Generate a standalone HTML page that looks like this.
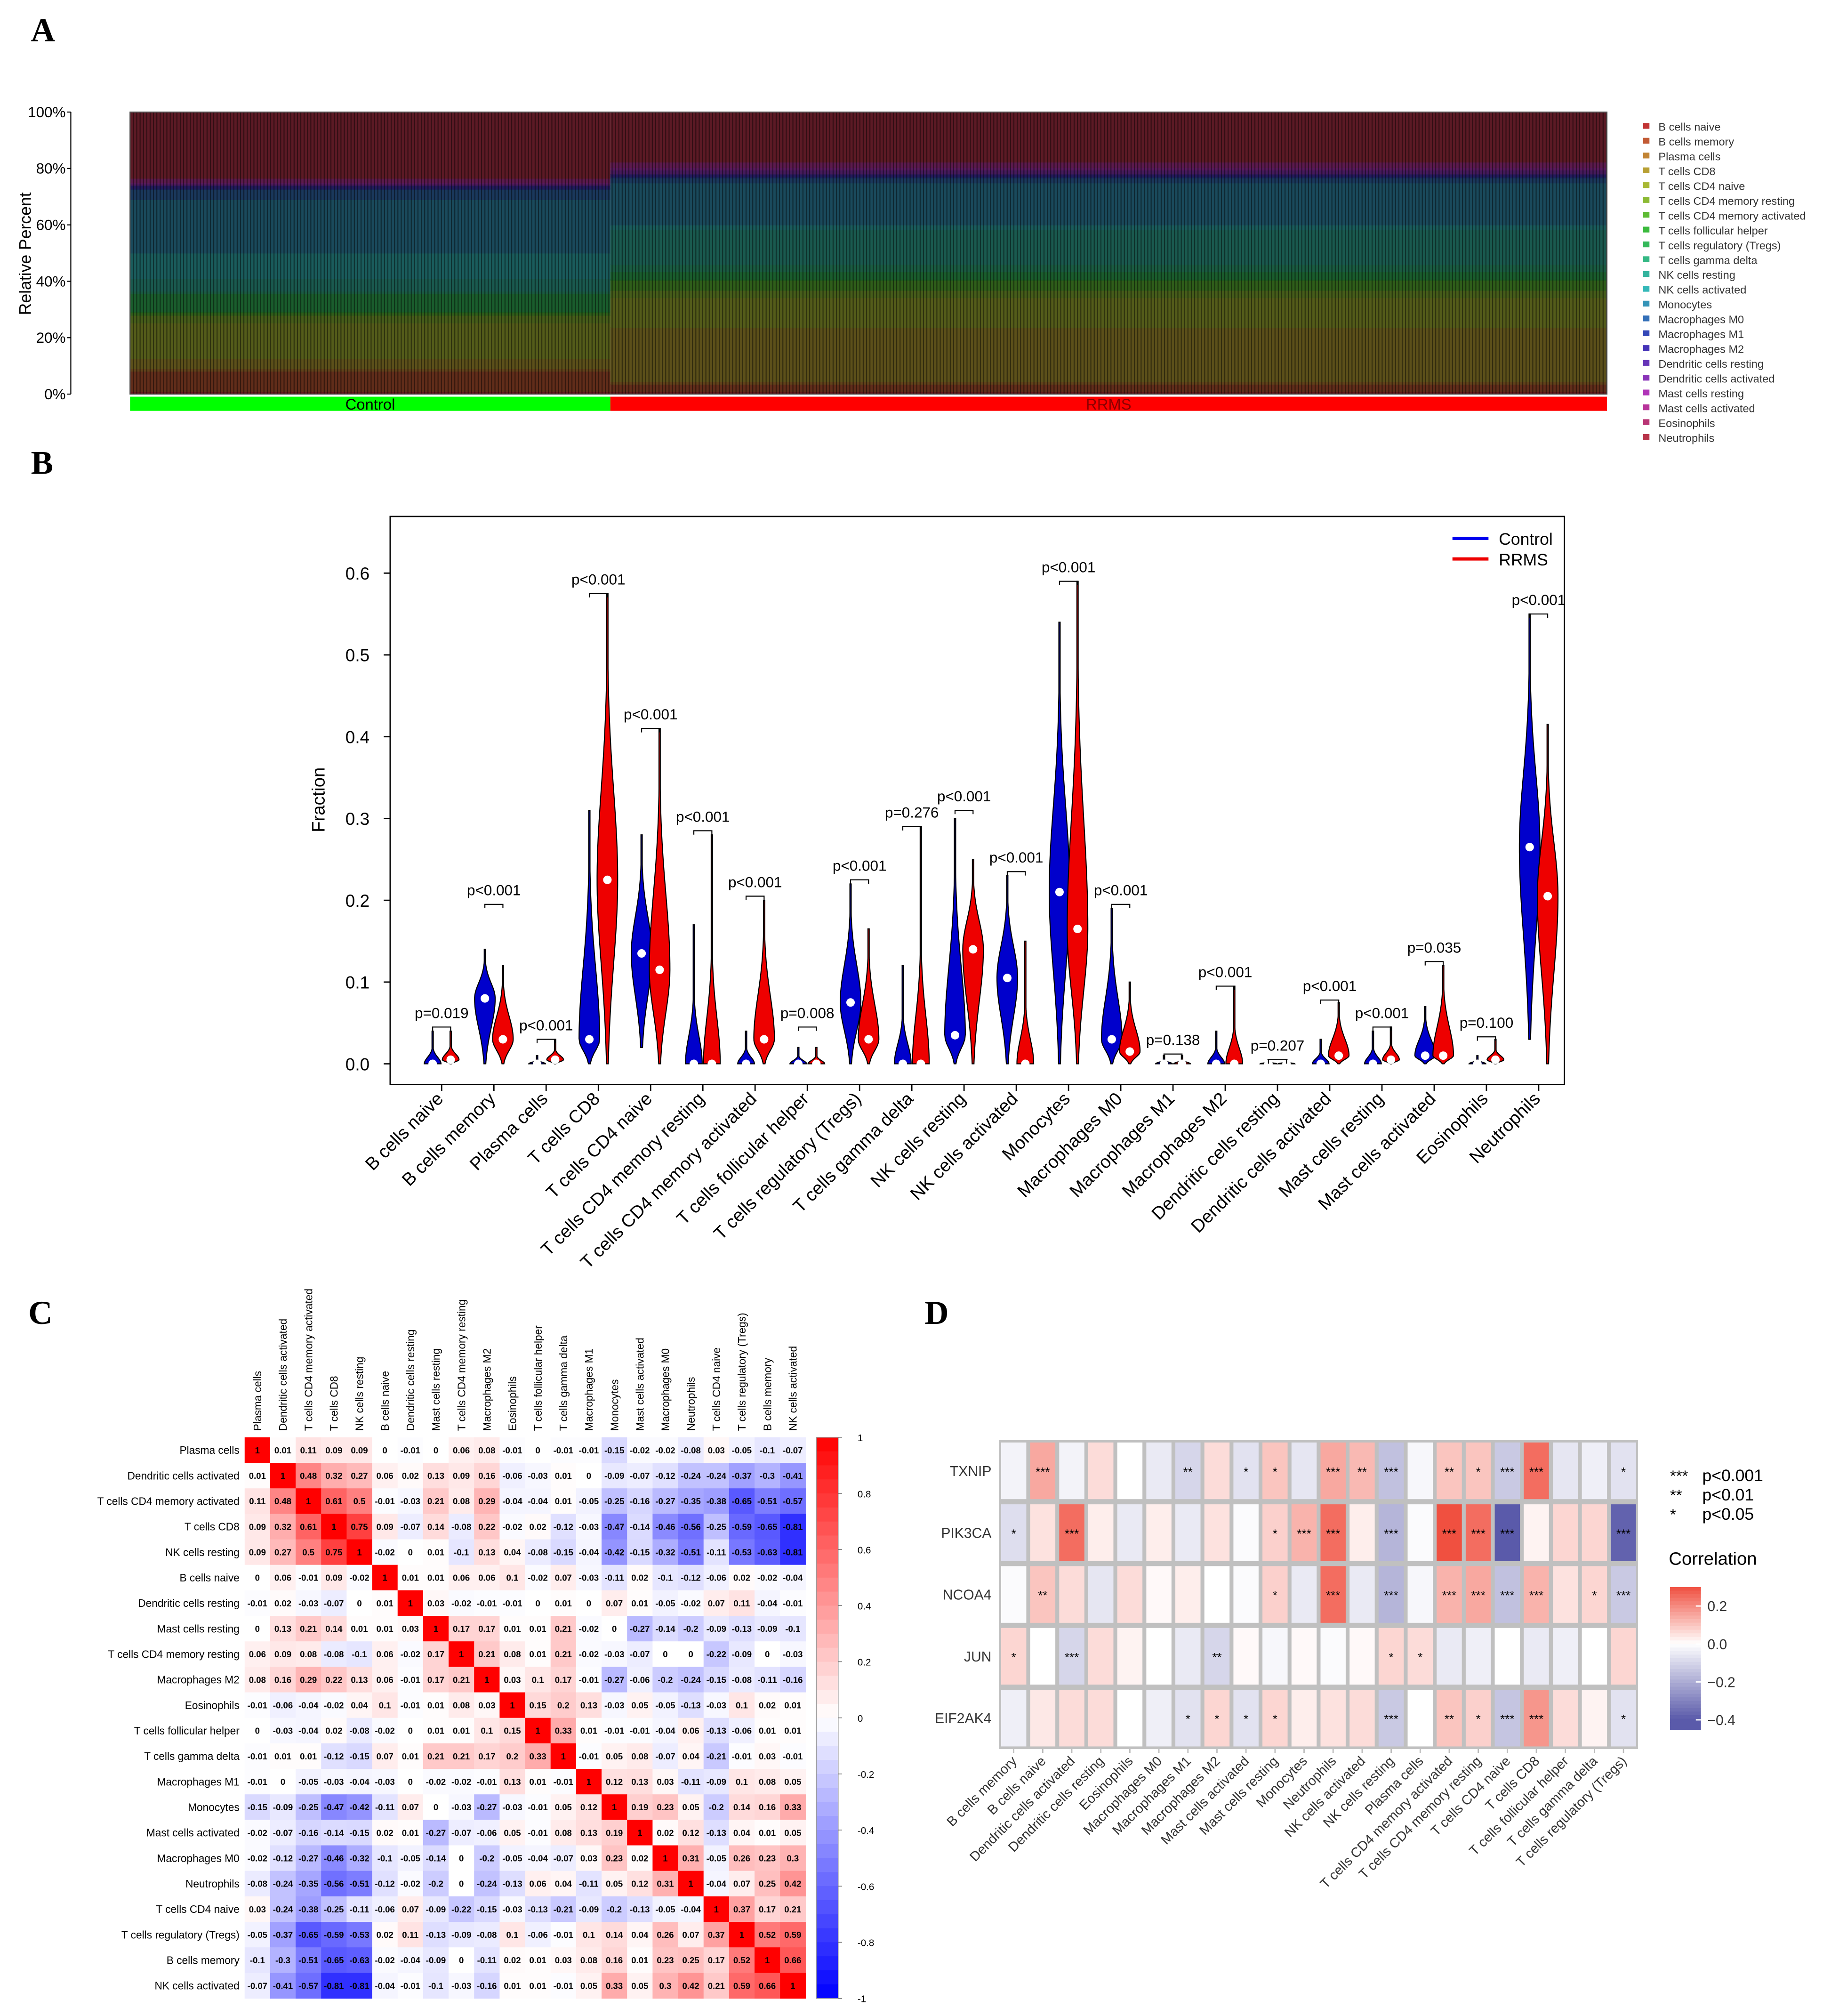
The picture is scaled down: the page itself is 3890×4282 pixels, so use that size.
<!DOCTYPE html>
<html><head><meta charset="utf-8">
<style>
html,body{margin:0;padding:0;background:#fff;}
svg{display:block;font-family:"Liberation Sans",Arial,sans-serif;}
</style></head>
<body>
<svg id="fig" width="3890" height="4282" viewBox="0 0 1422 1565.3" preserveAspectRatio="none" xmlns="http://www.w3.org/2000/svg">
<rect x="0" y="0" width="1422" height="1566" fill="#fff"/>
<g id="pa"></g>
<g id="pb"></g>
<g id="pc"></g>
<g id="pd"></g>
</svg>
<script>
// ---------- shared data ----------
const cellTypes = ["B cells naive","B cells memory","Plasma cells","T cells CD8","T cells CD4 naive","T cells CD4 memory resting","T cells CD4 memory activated","T cells follicular helper","T cells regulatory (Tregs)","T cells gamma delta","NK cells resting","NK cells activated","Monocytes","Macrophages M0","Macrophages M1","Macrophages M2","Dendritic cells resting","Dendritic cells activated","Mast cells resting","Mast cells activated","Eosinophils","Neutrophils"];
const legendColors = ["#c23434","#c25a34","#c28434","#b8a034","#a8b834","#8cba34","#5ebb34","#3bba3e","#34b95a","#34b884","#34b49e","#34b8b8","#3494b8","#3470b8","#3448b8","#4634b8","#6634b8","#8a34b8","#b034b8","#b8349a","#b83474","#b8344a"];
const controlMean = [0.01,0.08,0.01,0.04,0.14,0.03,0.01,0.005,0.07,0.01,0.05,0.10,0.21,0.04,0.005,0.01,0.002,0.005,0.005,0.015,0.003,0.26];
const rrmsMean = [0.01,0.03,0.01,0.22,0.12,0.03,0.04,0.005,0.03,0.03,0.14,0.02,0.17,0.02,0.005,0.01,0.002,0.015,0.01,0.02,0.005,0.20];
const pctTicks = ["0%","20%","40%","60%","80%","100%"];

// panel B data
const ctrlMedian = [0,0.08,0,0.03,0.135,0,0,0,0.075,0,0.035,0.105,0.21,0.03,0,0,0,0,0,0.01,0,0.265];
const ctrlMax =    [0.04,0.14,0.01,0.31,0.28,0.17,0.04,0.02,0.22,0.12,0.30,0.23,0.54,0.19,0.01,0.04,0.005,0.03,0.04,0.07,0.01,0.55];
const ctrlMin =    [0,0,0,0,0.02,0,0,0,0,0,0,0,0,0,0,0,0,0,0,0,0,0.03];
const rrmsMedian = [0.005,0.03,0.005,0.225,0.115,0,0.03,0,0.03,0,0.14,0,0.165,0.015,0,0,0,0.01,0.005,0.01,0.005,0.205];
const rrmsMax =    [0.04,0.12,0.03,0.575,0.41,0.28,0.20,0.02,0.165,0.29,0.25,0.15,0.59,0.10,0.01,0.095,0.005,0.075,0.045,0.12,0.03,0.415];
const rrmsMin =    [0,0,0,0,0,0,0,0,0,0,0,0,0,0,0,0,0,0,0,0,0,0];
const pLabels = ["p=0.019","p<0.001","p<0.001","p<0.001","p<0.001","p<0.001","p<0.001","p=0.008","p<0.001","p=0.276","p<0.001","p<0.001","p<0.001","p<0.001","p=0.138","p<0.001","p=0.207","p<0.001","p<0.001","p=0.035","p=0.100","p<0.001"];
const bracketY =   [0.045,0.195,0.03,0.575,0.41,0.285,0.205,0.045,0.225,0.29,0.31,0.235,0.59,0.195,0.012,0.095,0.005,0.078,0.045,0.125,0.033,0.55];
const fracTicks = [0,0.1,0.2,0.3,0.4,0.5,0.6];

// panel C data
const corrLabels = ["Plasma cells","Dendritic cells activated","T cells CD4 memory activated","T cells CD8","NK cells resting","B cells naive","Dendritic cells resting","Mast cells resting","T cells CD4 memory resting","Macrophages M2","Eosinophils","T cells follicular helper","T cells gamma delta","Macrophages M1","Monocytes","Mast cells activated","Macrophages M0","Neutrophils","T cells CD4 naive","T cells regulatory (Tregs)","B cells memory","NK cells activated"];
const corrMatrix = [
[1,0.01,0.11,0.09,0.09,0,-0.01,0,0.06,0.08,-0.01,0,-0.01,-0.01,-0.15,-0.02,-0.02,-0.08,0.03,-0.05,-0.1,-0.07],
[0.01,1,0.48,0.32,0.27,0.06,0.02,0.13,0.09,0.16,-0.06,-0.03,0.01,0,-0.09,-0.07,-0.12,-0.24,-0.24,-0.37,-0.3,-0.41],
[0.11,0.48,1,0.61,0.5,-0.01,-0.03,0.21,0.08,0.29,-0.04,-0.04,0.01,-0.05,-0.25,-0.16,-0.27,-0.35,-0.38,-0.65,-0.51,-0.57],
[0.09,0.32,0.61,1,0.75,0.09,-0.07,0.14,-0.08,0.22,-0.02,0.02,-0.12,-0.03,-0.47,-0.14,-0.46,-0.56,-0.25,-0.59,-0.65,-0.81],
[0.09,0.27,0.5,0.75,1,-0.02,0,0.01,-0.1,0.13,0.04,-0.08,-0.15,-0.04,-0.42,-0.15,-0.32,-0.51,-0.11,-0.53,-0.63,-0.81],
[0,0.06,-0.01,0.09,-0.02,1,0.01,0.01,0.06,0.06,0.1,-0.02,0.07,-0.03,-0.11,0.02,-0.1,-0.12,-0.06,0.02,-0.02,-0.04],
[-0.01,0.02,-0.03,-0.07,0,0.01,1,0.03,-0.02,-0.01,-0.01,0,0.01,0,0.07,0.01,-0.05,-0.02,0.07,0.11,-0.04,-0.01],
[0,0.13,0.21,0.14,0.01,0.01,0.03,1,0.17,0.17,0.01,0.01,0.21,-0.02,0,-0.27,-0.14,-0.2,-0.09,-0.13,-0.09,-0.1],
[0.06,0.09,0.08,-0.08,-0.1,0.06,-0.02,0.17,1,0.21,0.08,0.01,0.21,-0.02,-0.03,-0.07,0,0,-0.22,-0.09,0,-0.03],
[0.08,0.16,0.29,0.22,0.13,0.06,-0.01,0.17,0.21,1,0.03,0.1,0.17,-0.01,-0.27,-0.06,-0.2,-0.24,-0.15,-0.08,-0.11,-0.16],
[-0.01,-0.06,-0.04,-0.02,0.04,0.1,-0.01,0.01,0.08,0.03,1,0.15,0.2,0.13,-0.03,0.05,-0.05,-0.13,-0.03,0.1,0.02,0.01],
[0,-0.03,-0.04,0.02,-0.08,-0.02,0,0.01,0.01,0.1,0.15,1,0.33,0.01,-0.01,-0.01,-0.04,0.06,-0.13,-0.06,0.01,0.01],
[-0.01,0.01,0.01,-0.12,-0.15,0.07,0.01,0.21,0.21,0.17,0.2,0.33,1,-0.01,0.05,0.08,-0.07,0.04,-0.21,-0.01,0.03,-0.01],
[-0.01,0,-0.05,-0.03,-0.04,-0.03,0,-0.02,-0.02,-0.01,0.13,0.01,-0.01,1,0.12,0.13,0.03,-0.11,-0.09,0.1,0.08,0.05],
[-0.15,-0.09,-0.25,-0.47,-0.42,-0.11,0.07,0,-0.03,-0.27,-0.03,-0.01,0.05,0.12,1,0.19,0.23,0.05,-0.2,0.14,0.16,0.33],
[-0.02,-0.07,-0.16,-0.14,-0.15,0.02,0.01,-0.27,-0.07,-0.06,0.05,-0.01,0.08,0.13,0.19,1,0.02,0.12,-0.13,0.04,0.01,0.05],
[-0.02,-0.12,-0.27,-0.46,-0.32,-0.1,-0.05,-0.14,0,-0.2,-0.05,-0.04,-0.07,0.03,0.23,0.02,1,0.31,-0.05,0.26,0.23,0.3],
[-0.08,-0.24,-0.35,-0.56,-0.51,-0.12,-0.02,-0.2,0,-0.24,-0.13,0.06,0.04,-0.11,0.05,0.12,0.31,1,-0.04,0.07,0.25,0.42],
[0.03,-0.24,-0.38,-0.25,-0.11,-0.06,0.07,-0.09,-0.22,-0.15,-0.03,-0.13,-0.21,-0.09,-0.2,-0.13,-0.05,-0.04,1,0.37,0.17,0.21],
[-0.05,-0.37,-0.65,-0.59,-0.53,0.02,0.11,-0.13,-0.09,-0.08,0.1,-0.06,-0.01,0.1,0.14,0.04,0.26,0.07,0.37,1,0.52,0.59],
[-0.1,-0.3,-0.51,-0.65,-0.63,-0.02,-0.04,-0.09,0,-0.11,0.02,0.01,0.03,0.08,0.16,0.01,0.23,0.25,0.17,0.52,1,0.66],
[-0.07,-0.41,-0.57,-0.81,-0.81,-0.04,-0.01,-0.1,-0.03,-0.16,0.01,0.01,-0.01,0.05,0.33,0.05,0.3,0.42,0.21,0.59,0.66,1]];
const corrTicks = ["1","0.8","0.6","0.4","0.2","0","-0.2","-0.4","-0.6","-0.8","-1"];

// panel D data
const genes = ["TXNIP","PIK3CA","NCOA4","JUN","EIF2AK4"];
const dCols = ["B cells memory","B cells naive","Dendritic cells activated","Dendritic cells resting","Eosinophils","Macrophages M0","Macrophages M1","Macrophages M2","Mast cells activated","Mast cells resting","Monocytes","Neutrophils","NK cells activated","NK cells resting","Plasma cells","T cells CD4 memory activated","T cells CD4 memory resting","T cells CD4 naive","T cells CD8","T cells follicular helper","T cells gamma delta","T cells regulatory (Tregs)"];
const dTXNIP =   [-0.03,0.15,-0.03,0.06,0,-0.05,-0.1,0.06,-0.07,0.1,-0.06,0.15,0.12,-0.15,-0.02,0.1,0.1,-0.13,0.25,-0.06,-0.04,-0.07];
const dPIK3CA =  [-0.08,0.05,0.25,0.03,-0.05,0.03,-0.05,0.05,-0.01,0.08,0.13,0.25,0.03,-0.18,-0.01,0.3,0.25,-0.4,0.02,0.07,0.07,-0.38];
const dNCOA4 =   [-0.01,0.1,0.06,-0.06,0.06,0.01,0.03,0,-0.01,0.08,-0.05,0.25,-0.05,-0.18,-0.02,0.13,0.15,-0.15,0.13,0.05,0.07,-0.13];
const dJUN =     [0.07,0,-0.1,0.06,0.02,0,-0.05,-0.1,0.01,-0.02,0.01,-0.01,0.01,0.07,0.06,-0.05,-0.04,0,-0.05,-0.04,0,0.07];
const dEIF2AK4 = [-0.04,0.04,0.06,0.06,0,-0.04,-0.07,0.07,-0.07,0.07,0.03,0.05,0.06,-0.13,0,0.1,0.08,-0.14,0.18,0.06,0.02,-0.07];
const sTXNIP =   ["","***","","","","","**","","*","*","","***","**","***","","**","*","***","***","","","*"];
const sPIK3CA =  ["*","","***","","","","","","","*","***","***","","***","","***","***","***","","","","***"];
const sNCOA4 =   ["","**","","","","","","","","*","","***","","***","","***","***","***","***","","*","***"];
const sJUN =     ["*","","***","","","","","**","","","","","","*","*","","","","","","",""];
const sEIF2AK4 = ["","","","","","","*","*","*","*","","","","***","","**","*","***","***","","","*"];
const dValues = [dTXNIP,dPIK3CA,dNCOA4,dJUN,dEIF2AK4];
const dStars = [sTXNIP,sPIK3CA,sNCOA4,sJUN,sEIF2AK4];
const dTicks = [0.2,0.0,-0.2,-0.4];

const NS="http://www.w3.org/2000/svg";
function mk(parent,tag,attrs,text){const e=document.createElementNS(NS,tag);for(const k in attrs)e.setAttribute(k,attrs[k]);if(text!==undefined)e.textContent=text;parent.appendChild(e);return e;}
function hexToRgb(h){return [parseInt(h.substr(1,2),16),parseInt(h.substr(3,2),16),parseInt(h.substr(5,2),16)];}
function mix(a,b,t){return `rgb(${Math.round(a[0]+(b[0]-a[0])*t)},${Math.round(a[1]+(b[1]-a[1])*t)},${Math.round(a[2]+(b[2]-a[2])*t)})`;}

// ---------- Panel A ----------
(function(){
const g=document.getElementById('pa');
let t=mk(g,'text',{x:24,y:32,'font-family':'Liberation Serif','font-weight':'bold','font-size':26});t.textContent='A';

const x0=101,x1=1248,xSplit=474,yTop=87,yBot=306;
const yA=v=>yBot-(yBot-yTop)*v;
function stack(means,xa,xb,name){
  const tot=means.reduce((a,b)=>a+b,0);let acc=0;
  means.forEach((m,i)=>{const f=m/tot;const r=mk(g,'rect',{x:xa,y:yA(acc+f),width:xb-xa,height:(yBot-yTop)*f+0.3,fill:mix(hexToRgb(legendColors[i]),[0,0,0],0.5)});
    acc+=f;});
}
stack(controlMean,x0,xSplit,'control-bar');stack(rrmsMean,xSplit,x1,'rrms-bar');
let d='';for(let x=x0;x<=x1;x+=2.6){d+=`M${x.toFixed(1)} ${yTop}V${yBot}`;}
mk(g,'path',{d:d,stroke:'#000','stroke-width':0.8,'stroke-opacity':0.45,fill:'none'});
mk(g,'rect',{x:x0,y:yTop,width:x1-x0,height:yBot-yTop,fill:'none',stroke:'#555','stroke-width':0.8});
mk(g,'line',{x1:55,y1:yTop,x2:55,y2:yBot,stroke:'#000','stroke-width':0.8});
pctTicks.forEach((l,i)=>{const y=yA(i/5);mk(g,'line',{x1:52,y1:y,x2:55,y2:y,stroke:'#000','stroke-width':0.8});
 const tt=mk(g,'text',{x:51,y:y+4,'text-anchor':'end','font-size':11.5},l);});
t=mk(g,'text',{x:0,y:0,transform:'translate(24,197) rotate(-90)','text-anchor':'middle','font-size':13},'Relative Percent');

let r=mk(g,'rect',{x:x0,y:308,width:xSplit-x0,height:11,fill:'#00ff00'});
r=mk(g,'rect',{x:xSplit,y:308,width:x1-xSplit,height:11,fill:'#ff0000'});
t=mk(g,'text',{x:(x0+xSplit)/2,y:318,'text-anchor':'middle','font-size':12},'Control');
t=mk(g,'text',{x:(xSplit+x1)/2,y:318,'text-anchor':'middle','font-size':12,fill:'#8b0000'},'RRMS');
cellTypes.forEach((c,i)=>{const y=99+i*11.5;
 const s=mk(g,'rect',{x:1276,y:y-3.5,width:5,height:4.5,fill:legendColors[i]});
 const tx=mk(g,'text',{x:1288,y:y+2.5,'font-size':8.6,fill:'#333'},c);});
})();

// ---------- Panel B ----------
(function(){
const g=document.getElementById('pb');
let t=mk(g,'text',{x:24,y:368,'font-family':'Liberation Serif','font-weight':'bold','font-size':26},'B');

const bx0=303,bx1=1215,by0=401,by1=842;
const yB=v=>826-v*635;
const xB=i=>343+i*40.57;
let r=mk(g,'rect',{x:bx0,y:by0,width:bx1-bx0,height:by1-by0,fill:'none',stroke:'#000','stroke-width':1});

fracTicks.forEach(v=>{const y=yB(v);mk(g,'line',{x1:bx0-5,y1:y,x2:bx0,y2:y,stroke:'#000'});
 const tt=mk(g,'text',{x:bx0-16,y:y+5,'text-anchor':'end','font-size':13.5},v.toFixed(1));});
t=mk(g,'text',{x:0,y:0,transform:'translate(252,621) rotate(-90)','text-anchor':'middle','font-size':14},'Fraction');

function violin(cx,med,mx,mn,color,name){
  const W=med<0.006?6.5:8;const up=Math.max(mx-med,0.004)/(med<0.006?5:3.2),dn=Math.max(med-mn,0.004)/2.2;
  const pts=[];const N=50;
  for(let k=0;k<=N;k++){const v=mn+(mx-mn)*k/N;const s=v>=med?up:dn;let w=W*Math.exp(-0.5*Math.pow((v-med)/s,2));w=Math.max(w,0.5);pts.push([v,w]);}
  let d='M'+pts.map(p=>`${(cx+p[1]).toFixed(2)} ${yB(p[0]).toFixed(2)}`).join('L');
  d+='L'+pts.slice().reverse().map(p=>`${(cx-p[1]).toFixed(2)} ${yB(p[0]).toFixed(2)}`).join('L')+'Z';
  const p=mk(g,'path',{d:d,fill:color,stroke:'#000','stroke-width':0.8});
  const c=mk(g,'circle',{cx:cx,cy:yB(med),r:3.3,fill:'#fff'});
}
cellTypes.forEach((c,i)=>{const cx=xB(i);
 violin(cx-7,ctrlMedian[i],ctrlMax[i],ctrlMin[i],'#0000cc','control-violin');
 violin(cx+7,rrmsMedian[i],rrmsMax[i],rrmsMin[i],'#ee0000','rrms-violin');
 const by=yB(bracketY[i]);
 mk(g,'path',{d:`M${cx-7} ${by+3}V${by}H${cx+7}V${by+3}`,stroke:'#000','stroke-width':0.8,fill:'none'});
 const pl=mk(g,'text',{x:cx,y:by-7,'text-anchor':'middle','font-size':11.5},pLabels[i]);
 mk(g,'line',{x1:cx,y1:by1,x2:cx,y2:by1+5,stroke:'#000'});
 const xl=mk(g,'text',{x:0,y:0,transform:`translate(${cx+2},${by1+12}) rotate(-45)`,'text-anchor':'end','font-size':14},c);
});
mk(g,'line',{x1:1128,y1:418,x2:1156,y2:418,stroke:'#0000ee','stroke-width':2.5});
mk(g,'line',{x1:1128,y1:434,x2:1156,y2:434,stroke:'#ee0000','stroke-width':2.5});
t=mk(g,'text',{x:1164,y:423,'font-size':13},'Control');
t=mk(g,'text',{x:1164,y:439,'font-size':13},'RRMS');
})();

// ---------- Panel C ----------
(function(){
const g=document.getElementById('pc');
let t=mk(g,'text',{x:22,y:1028,'font-family':'Liberation Serif','font-weight':'bold','font-size':26},'C');

const cx0=190,cy0=1116,cs=19.8,n=corrLabels.length;
const RED=[255,0,0],BLUE=[0,0,255],WH=[255,255,255];
const col=v=>v>=0?mix(WH,RED,v):mix(WH,BLUE,-v);
for(let i=0;i<n;i++){
 const rl=mk(g,'text',{x:cx0-4,y:cy0+i*cs+cs/2+3,'text-anchor':'end','font-size':8.3},corrLabels[i]);
 const cl=mk(g,'text',{x:0,y:0,transform:`translate(${cx0+i*cs+cs/2+3},${cy0-5}) rotate(-90)`,'font-size':8.3},corrLabels[i]);
 for(let j=0;j<n;j++){const v=corrMatrix[i][j];
  const c=mk(g,'rect',{x:cx0+j*cs,y:cy0+i*cs,width:cs+0.2,height:cs+0.2,fill:col(v)});
  const tx=mk(g,'text',{x:cx0+j*cs+cs/2,y:cy0+i*cs+cs/2+2.5,'text-anchor':'middle','font-size':6.8,'font-weight':'bold'},String(v));}
}
const cbx=634,cbw=17,cbh=n*cs,steps=40;
for(let k=0;k<steps;k++){const v=1-2*(k+0.5)/steps;mk(g,'rect',{x:cbx,y:cy0+k*cbh/steps,width:cbw,height:cbh/steps+0.3,fill:col(v)});}
mk(g,'rect',{x:cbx,y:cy0,width:cbw,height:cbh,fill:'none',stroke:'#999','stroke-width':0.5});
corrTicks.forEach((l,k)=>{const y=cy0+k*cbh/10;mk(g,'line',{x1:cbx+cbw,y1:y,x2:cbx+cbw+3,y2:y,stroke:'#666','stroke-width':0.5});
 const tt=mk(g,'text',{x:cbx+cbw+15,y:y+3,'font-size':7.5,'text-anchor':'start'},l);});
})();

// ---------- Panel D ----------
(function(){
const g=document.getElementById('pd');
let t=mk(g,'text',{x:718,y:1028,'font-family':'Liberation Serif','font-weight':'bold','font-size':26},'D');

const dx0=776,dy0=1118,cw=22.55,ch=48,nc=dCols.length,nr=genes.length;
mk(g,'rect',{x:dx0,y:dy0,width:cw*nc,height:ch*nr,fill:'#c0c0c0'});
const RED=[240,80,64],BLUE=[90,90,170],WH=[255,255,255];
const col=v=>v>=0?mix(WH,RED,Math.min(v/0.3,1)):mix(WH,BLUE,Math.min(-v/0.4,1));
for(let i=0;i<nr;i++){
 const gl=mk(g,'text',{x:dx0-6,y:dy0+i*ch+ch/2+4,'text-anchor':'end','font-size':11,fill:'#333'},genes[i]);
 for(let j=0;j<nc;j++){
  const c=mk(g,'rect',{x:dx0+j*cw+1.5,y:dy0+i*ch+2,width:cw-3,height:ch-4,fill:col(dValues[i][j])});
  if(dStars[i][j]){const s=mk(g,'text',{x:dx0+j*cw+cw/2,y:dy0+i*ch+ch/2+4,'text-anchor':'middle','font-size':9.5},dStars[i][j]);}
 }}
dCols.forEach((c,j)=>{const x=dx0+j*cw+cw/2;mk(g,'line',{x1:x,y1:dy0+ch*nr,x2:x,y2:dy0+ch*nr+3,stroke:'#bbb'});
 const l=mk(g,'text',{x:0,y:0,transform:`translate(${x+3},${dy0+ch*nr+10}) rotate(-45)`,'text-anchor':'end','font-size':10.5,fill:'#333'},c);});
[["***","p<0.001",1150],["**","p<0.01",1165],["*","p<0.05",1180]].forEach(a=>{
 mk(g,'text',{x:1297,y:a[2],'font-size':12},a[0]);const tt=mk(g,'text',{x:1322,y:a[2],'font-size':13},a[1]);});
t=mk(g,'text',{x:1296,y:1215,'font-size':14},'Correlation');
const yD=v=>1247+(0.2-v)*147.3;
const steps=40,vt=0.3,vb=-0.45;
for(let k=0;k<steps;k++){const v=vt-(vt-vb)*(k+0.5)/steps;mk(g,'rect',{x:1297,y:yD(vt)+(yD(vb)-yD(vt))*k/steps,width:24,height:(yD(vb)-yD(vt))/steps+0.3,fill:col(v)});}
dTicks.forEach(v=>{const y=yD(v);mk(g,'line',{x1:1317,y1:y,x2:1321,y2:y,stroke:'#fff'});
 const tt=mk(g,'text',{x:1326,y:y+4,'font-size':11,fill:'#333'},(v===0?'0.0':(v<0?'\u2212'+Math.abs(v).toFixed(1):v.toFixed(1))));});
})();
</script>
</body></html>
